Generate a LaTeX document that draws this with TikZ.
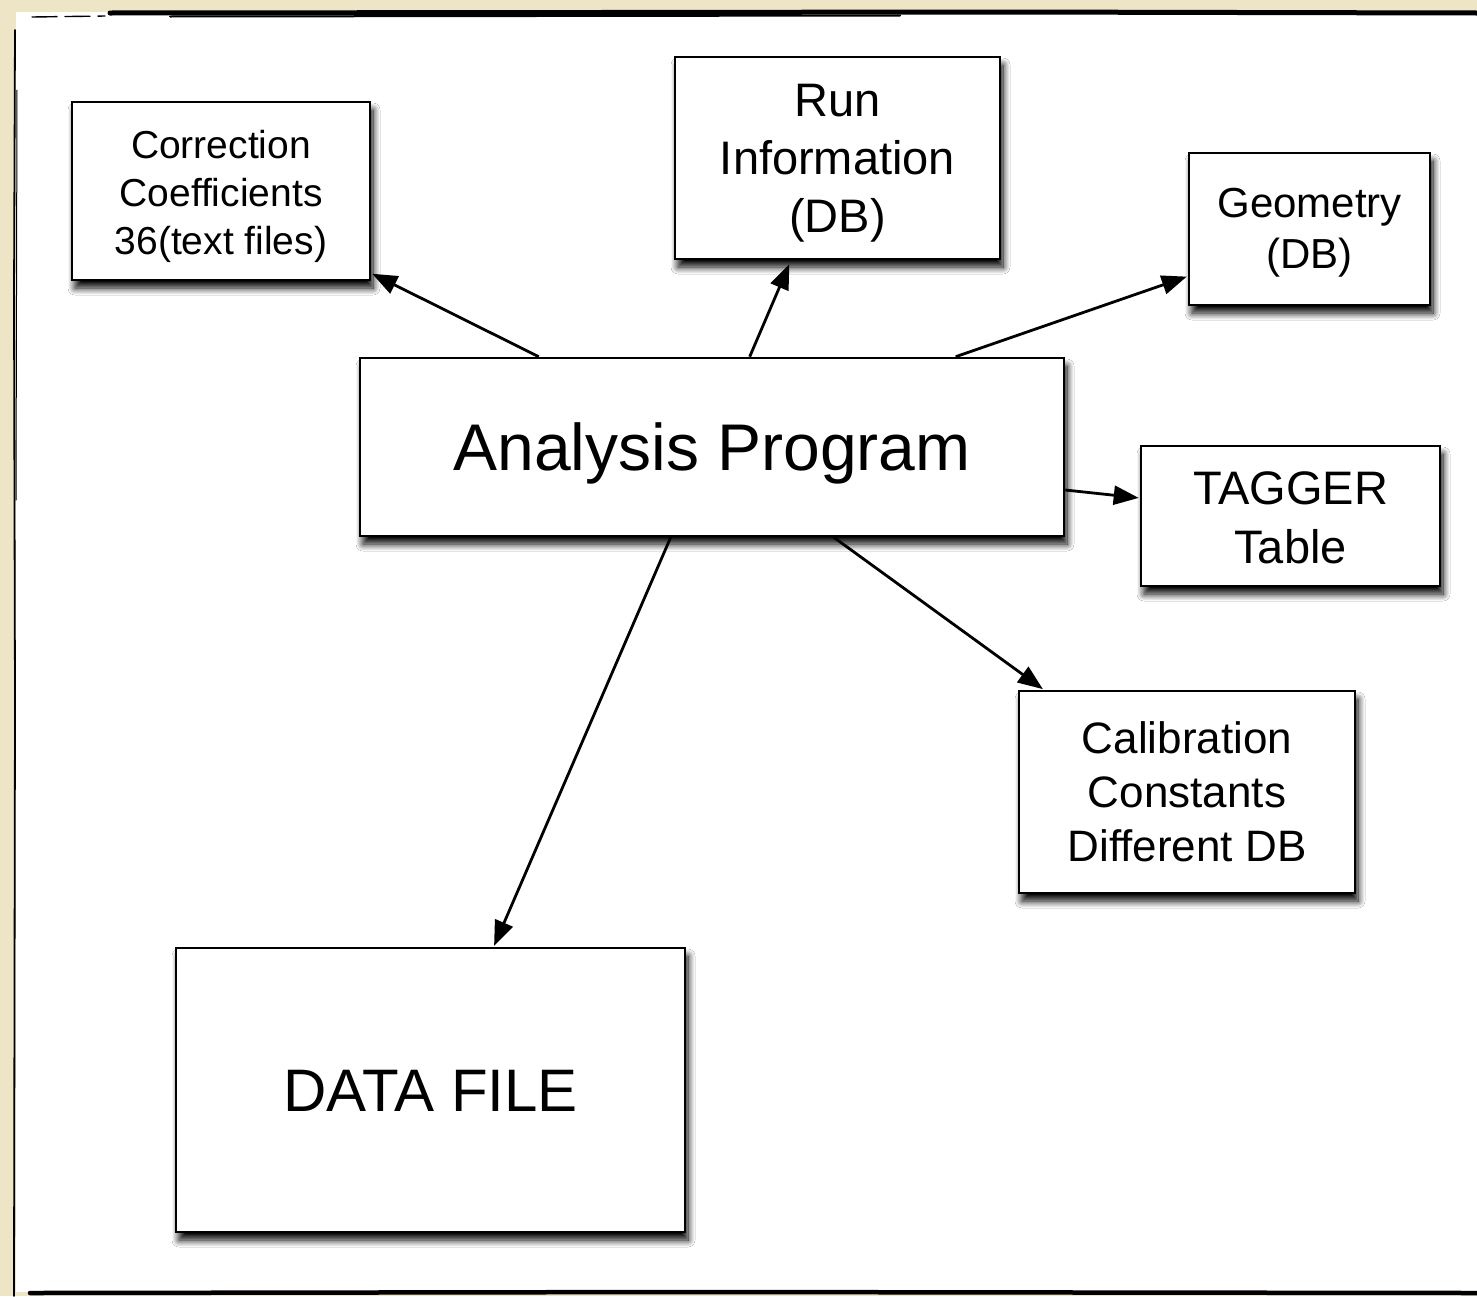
\documentclass[tikz,border=0pt]{standalone}
\usepackage{fontspec}
\setmainfont{Liberation Sans}
\usetikzlibrary{arrows.meta,shadows.blur}
\definecolor{paper}{RGB}{238,229,199}
\tikzset{
  box/.style={draw=black, line width=2.6pt, fill=white, inner sep=0pt,
    blur shadow={shadow xshift=3pt, shadow yshift=-8pt, shadow blur radius=7pt,
      shadow blur steps=12, shadow opacity=100}},
  txt/.style={align=center, inner sep=0pt},
  link/.style={line width=2.8pt, -{Triangle[length=25pt,width=19pt]}, shorten >=1pt},
  edge/.style={black, line cap=round}
}
\begin{document}
\begin{tikzpicture}[x=1pt, y=-1pt]
\useasboundingbox (0,0) rectangle (1477,1296);
% sheet on a paper background
\fill[paper] (0,0) rectangle (1477,1296);
\fill[white] (16,12) rectangle (1477,1292);
% rough hand-drawn frame
\draw[edge, line width=5pt] (110,13) -- (600,12.5) -- (1000,12) -- (1477,13);
\draw[edge, line width=2pt] (170,16.5) -- (900,15.5);
\draw[edge, line width=1.4pt, dash pattern=on 25pt off 8pt] (32,17) -- (105,16);
\draw[edge, line width=1.8pt] (15,30) -- (14,300) -- (15,700) -- (14,1296);
\draw[edge, line width=1pt] (17,90) -- (16,500);
\draw[edge, line width=4.5pt] (30,1293) -- (700,1292) -- (1477,1293);
% boxes
\node[box, minimum width=298pt, minimum height=178pt,
  label={[txt, yshift=-5pt, font=\fontsize{39}{48}\selectfont]center:Correction\\Coefficients\\36(text files)}]
  (corr) at (221,191) {};
\node[box, minimum width=325pt, minimum height=202pt,
  label={[txt, yshift=-5pt, font=\fontsize{47}{58}\selectfont]center:Run\\Information\\(DB)}]
  (run) at (837.5,158) {};
\node[box, minimum width=241pt, minimum height=152pt,
  label={[txt, yshift=-4pt, font=\fontsize{42}{51}\selectfont]center:Geometry\\(DB)}]
  (geo) at (1309.5,229) {};
\node[box, minimum width=704pt, minimum height=178pt,
  label={[txt, yshift=-6pt, font=\fontsize{66}{78}\selectfont]center:Analysis Program}]
  (ana) at (712,447) {};
\node[box, minimum width=299pt, minimum height=140pt,
  label={[txt, yshift=-2pt, font=\fontsize{47}{59}\selectfont]center:TAGGER\\Table}]
  (tag) at (1290.5,516) {};
\node[box, minimum width=336pt, minimum height=202pt,
  label={[txt, font=\fontsize{44}{54}\selectfont]center:Calibration\\Constants\\Different DB}]
  (cal) at (1187,792) {};
\node[box, minimum width=509pt, minimum height=284pt,
  label={[txt, yshift=-1pt, font=\fontsize{60}{72}\selectfont]center:DATA FILE}]
  (data) at (430.5,1090) {};
% connectors
\draw[link] ([xshift=180pt]ana.north west) -- ([yshift=8pt]corr.south east);
\draw[link] ([xshift=391pt]ana.north west) -- ([xshift=116pt,yshift=-3pt]run.south west);
\draw[link] ([xshift=597pt]ana.north west) -- ([yshift=30pt]geo.south west);
\draw[link] ([yshift=-43pt]ana.east) -- ([yshift=18pt]tag.west);
\draw[link] ([xshift=475pt]ana.south west) -- ([xshift=26pt]cal.north west);
\draw[link] ([xshift=312pt]ana.south west) -- ([xshift=319pt]data.north west);
\end{tikzpicture}
\end{document}
